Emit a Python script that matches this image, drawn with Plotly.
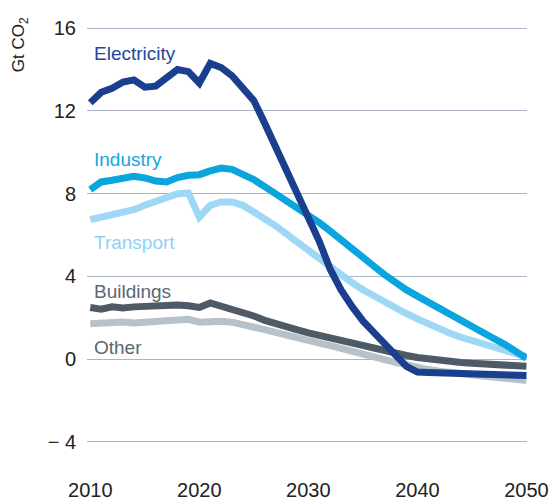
import plotly.graph_objects as go

# Years and emissions by sector (Gt CO2)
years = list(range(2010, 2051))

electricity = [12.4, 12.9, 13.1, 13.4, 13.5, 13.15, 13.2, 13.55, 14.0, 13.9,
               13.35, 14.3, 14.1, 13.7, 13.1, 12.5, 11.4, 10.25, 9.1, 8.05,
               6.95, 5.7, 4.35, 3.35, 2.55, 1.85, 1.3, 0.8, 0.2, -0.35,
               -0.62, -0.64, -0.66, -0.68, -0.7, -0.71, -0.72, -0.74, -0.75, -0.77,
               -0.79]
industry = [8.2, 8.57, 8.65, 8.71, 8.84, 8.76, 8.61, 8.57, 8.78, 8.89,
            8.92, 9.1, 9.24, 9.18, 8.97, 8.68, 8.34, 8.0, 7.7, 7.38,
            7.0, 6.6, 6.2, 5.8, 5.35, 4.95, 4.5, 4.08, 3.68, 3.35,
            3.05, 2.75, 2.45, 2.12, 1.82, 1.52, 1.26, 1.0, 0.72, 0.42,
            0.05]
transport = [6.75, 6.87, 6.96, 7.12, 7.23, 7.44, 7.6, 7.8, 8.0, 8.03,
             6.87, 7.44, 7.6, 7.6, 7.44, 7.12, 6.8, 6.45, 6.05, 5.65,
             5.25, 4.82, 4.42, 4.08, 3.7, 3.36, 3.05, 2.75, 2.48, 2.2,
             1.95, 1.7, 1.45, 1.25, 1.06, 0.9, 0.75, 0.6, 0.45, 0.3,
             0.12]
buildings = [2.5, 2.42, 2.53, 2.48, 2.53, 2.56, 2.59, 2.62, 2.62, 2.58,
             2.5, 2.72, 2.58, 2.42, 2.27, 2.09, 1.88, 1.7, 1.55, 1.42,
             1.27, 1.14, 1.02, 0.91, 0.8, 0.68, 0.56, 0.43, 0.3, 0.18,
             0.08, 0.0, -0.06, -0.11, -0.16, -0.2, -0.24, -0.27, -0.3, -0.32,
             -0.34]
other = [1.72, 1.75, 1.79, 1.8, 1.75, 1.77, 1.79, 1.84, 1.88, 1.93,
         1.79, 1.82, 1.84, 1.79, 1.69, 1.56, 1.43, 1.3, 1.15, 1.02,
         0.9, 0.78, 0.66, 0.54, 0.42, 0.28, 0.13, -0.02, -0.15, -0.28,
         -0.4, -0.5, -0.58, -0.65, -0.71, -0.77, -0.82, -0.87, -0.92, -0.97,
         -1.03]

sectors = ["Electricity", "Industry", "Transport", "Buildings", "Other"]
series = [electricity, industry, transport, buildings, other]
line_colors = ["#1a3f8f", "#0aa5de", "#9fd8f4", "#4e5b67", "#b7c1c9"]
label_colors = ["#22479c", "#12a7dd", "#8fd2f2", "#5b6772", "#5b6772"]
label_y = [14.8, 9.67, 5.66, 3.29, 0.58]

tick_vals = [-4, 0, 4, 8, 12, 16]
tick_text = ["\u2212 4", "0", "4", "8", "12", "16"]

font = "Liberation Sans, Arial, sans-serif"

fig = go.Figure()

# draw lightest lines first so darker ones sit on top
for name, vals, col in zip(sectors[::-1], series[::-1], line_colors[::-1]):
    fig.add_trace(go.Scatter(x=years, y=vals, mode="lines", name=name,
                             line=dict(color=col, width=7),
                             hoverinfo="skip"))

for name, col, ly in zip(sectors, label_colors, label_y):
    fig.add_annotation(x=2010.18, y=ly, xref="x", yref="y", text=name,
                       showarrow=False, xanchor="left", yanchor="middle",
                       font=dict(family=font, size=19, color=col))

fig.add_annotation(x=-0.152, y=0.945, xref="paper", yref="paper",
                   text="Gt CO<sub>2</sub>", textangle=-90, showarrow=False,
                   xanchor="center", yanchor="middle",
                   font=dict(family=font, size=17, color="#222222"))

fig.update_layout(
    width=550, height=500,
    margin=dict(l=87, r=23, t=22, b=57),
    plot_bgcolor="white", paper_bgcolor="white",
    showlegend=False,
    font=dict(family=font, size=20, color="#222222"),
)
fig.update_xaxes(range=[2009.7, 2050.05], tickvals=[2010, 2020, 2030, 2040, 2050],
                 showgrid=False, zeroline=False, showline=False,
                 automargin=False,
                 ticklabelstandoff=33, tickfont=dict(size=20))
fig.update_yaxes(range=[-4.05, 16.3], tickvals=tick_vals, ticktext=tick_text,
                 showgrid=True, gridcolor="#aab4c4", gridwidth=1,
                 zeroline=False, showline=False, automargin=False,
                 ticklabelstandoff=10, tickfont=dict(size=20))

# the page's default body margin would shift the chart by 8px
fig.write_html("out.html", config={"displayModeBar": False},
               post_script="document.body.style.margin='0';document.body.style.overflow='hidden';")
